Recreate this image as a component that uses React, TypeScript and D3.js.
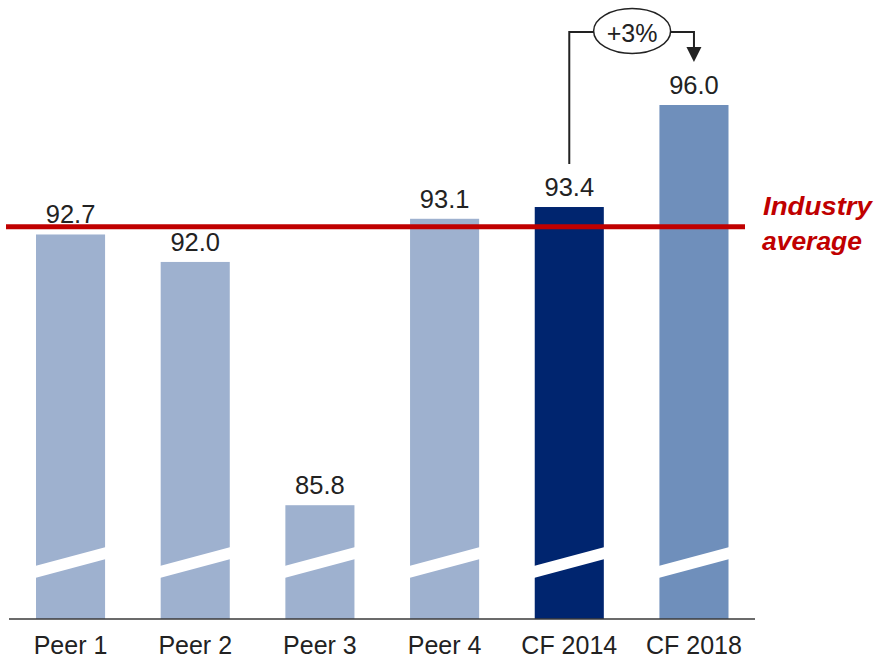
import React from "react";
import * as d3 from "d3";

const categories = ["Peer 1", "Peer 2", "Peer 3", "Peer 4", "CF 2014", "CF 2018"];
const values = [92.7, 92.0, 85.8, 93.1, 93.4, 96.0];
const valueLabels = ["92.7", "92.0", "85.8", "93.1", "93.4", "96.0"];
const barColors = ["#9eb1cf", "#9eb1cf", "#9eb1cf", "#9eb1cf", "#00256f", "#6f8fbb"];
const industryAverage = 92.9;
const industryLabel = ["Industry", "average"];
const changeLabel = "+3%";

const W = 879;
const H = 660;
const FONT = "'Liberation Sans', Arial, Helvetica, sans-serif";

export default function App() {
  const baseY = 619;
  const x = d3.scaleBand<string>().domain(categories).range([36, 728.5]).paddingInner(0.446).paddingOuter(0);
  const y = d3.scaleLinear().domain([82.9, 96]).range([baseY, 105]);
  const bw = x.bandwidth();

  const avgY = y(industryAverage);
  const from = 4; // CF 2014
  const to = 5; // CF 2018
  const fromX = (x(categories[from]) as number) + bw / 2;
  const toX = (x(categories[to]) as number) + bw / 2;
  const topY = 32;
  const ellCx = (fromX + toX) / 2 + 0.5;

  return (
    <div style={{ position: "absolute", left: 0, top: 0 }}>
      <svg width={W} height={H} style={{ display: "block", background: "#fff" }}>
        {categories.map((c, i) => {
          const bx = x(c) as number;
          const by = y(values[i]);
          const lb = baseY - 47;
          const rb = baseY - 66;
          const gh = 6;
          const stripe = `M${bx - 1},${lb - gh} L${bx + bw + 1},${rb - gh} L${bx + bw + 1},${rb + gh} L${bx - 1},${lb + gh} Z`;
          return (
            <g key={c}>
              <rect x={bx} y={by} width={bw} height={baseY - by} fill={barColors[i]} />
              <path d={stripe} fill="#fff" />
              <text x={bx + bw / 2} y={by - 11} textAnchor="middle" fontFamily={FONT} fontSize={25.5} fill="#222">
                {valueLabels[i]}
              </text>
              <text x={bx + bw / 2} y={654} textAnchor="middle" fontFamily={FONT} fontSize={25} fill="#222">
                {c}
              </text>
            </g>
          );
        })}

        <line x1={9} x2={755} y1={baseY} y2={baseY} stroke="#3a3a3a" strokeWidth={1.5} />

        <line x1={6} x2={745} y1={avgY} y2={avgY} stroke="#c00000" strokeWidth={5} />
        <text x={763} y={215} fontFamily={FONT} fontSize={26} fontWeight="bold" fontStyle="italic" fill="#c00000" textLength={109} lengthAdjust="spacingAndGlyphs">
          {industryLabel[0]}
        </text>
        <text x={762} y={250} fontFamily={FONT} fontSize={26} fontWeight="bold" fontStyle="italic" fill="#c00000" textLength={100} lengthAdjust="spacingAndGlyphs">
          {industryLabel[1]}
        </text>

        <path d={`M${fromX},164 L${fromX},${topY} L${toX},${topY} L${toX},48`} fill="none" stroke="#222" strokeWidth={2} />
        <path d={`M${toX - 7.5},47 L${toX + 7.5},47 L${toX},62 Z`} fill="#222" />
        <ellipse cx={ellCx} cy={31} rx={38.5} ry={22.5} fill="#fff" stroke="#222" strokeWidth={1.5} />
        <text x={ellCx} y={41.5} textAnchor="middle" fontFamily={FONT} fontSize={25} fill="#222">
          {changeLabel}
        </text>
      </svg>
    </div>
  );
}
